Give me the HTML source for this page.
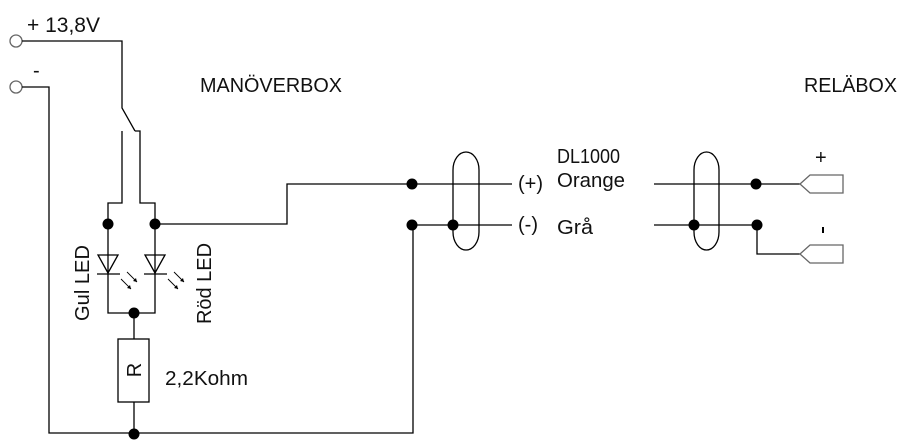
<!DOCTYPE html>
<html><head><meta charset="utf-8"><style>
html,body{margin:0;padding:0;background:#fff;}
svg{display:block;}
text{font-family:"Liberation Sans",sans-serif;fill:#111;}
</style></head><body>
<svg width="906" height="446" viewBox="0 0 906 446" xmlns="http://www.w3.org/2000/svg">
<g fill="none" stroke="#000" stroke-width="1.3">
<circle cx="16" cy="41" r="6" stroke="#666"/>
<circle cx="16" cy="87" r="6" stroke="#666"/>
<polyline points="22,41 122,41 122,108 135,131"/>
<polyline points="22,87 49,87 49,433 413,433 413,225"/>
<polyline points="122,131 122,203 108,203 108,313 155,313 155,203 140,203 140,131 135,131"/>
<polygon points="98,255 118,255 108,273"/>
<line x1="97" y1="274" x2="120" y2="274"/>
<polygon points="145,255 165,255 155,273"/>
<line x1="144" y1="274" x2="167" y2="274"/>
<line x1="134" y1="313" x2="134" y2="339"/>
<rect x="118" y="339" width="31" height="63"/>
<line x1="134" y1="402" x2="134" y2="433"/>
<polyline points="155,224 287,224 287,184 512,184"/>
<line x1="413" y1="225" x2="512" y2="225"/>
<rect x="453" y="152" width="26" height="98" rx="13" ry="18"/>
<line x1="654" y1="184" x2="800" y2="184"/>
<polyline points="654,225 757,225 757,254 800,254"/>
<rect x="694" y="152" width="25" height="98" rx="12.5" ry="18"/>
<polygon points="800,184 810,175 843,175 843,193 810,193" stroke="#666"/>
<polygon points="800,254 810,245 843,245 843,263 810,263" stroke="#666"/>
<line x1="823" y1="227" x2="823" y2="233" stroke-width="2"/>
<g stroke-width="0.9">
<line x1="121" y1="279" x2="131" y2="289"/><line x1="127" y1="272" x2="137" y2="282"/>
<line x1="168" y1="279" x2="178" y2="289"/><line x1="174" y1="272" x2="184" y2="282"/>
</g>
</g>
<g fill="#000">
<path d="M131,289 l-4,-1 l3,-3z M137,282 l-4,-1 l3,-3z M178,289 l-4,-1 l3,-3z M184,282 l-4,-1 l3,-3z"/>
<circle cx="108" cy="224" r="5.5"/><circle cx="155" cy="224" r="5.5"/>
<circle cx="134" cy="313" r="5.5"/><circle cx="134" cy="434" r="5.5"/>
<circle cx="412" cy="184" r="5.5"/><circle cx="412" cy="225" r="5.5"/>
<circle cx="453" cy="225" r="5.5"/><circle cx="694" cy="225" r="5.5"/>
<circle cx="756" cy="184" r="5.5"/><circle cx="757" cy="225" r="5.5"/>
</g>
<g font-size="20">
<text x="27" y="32" font-size="21" textLength="73" lengthAdjust="spacingAndGlyphs">+ 13,8V</text>
<text x="33" y="77">-</text>
<text x="200" y="92" textLength="142" lengthAdjust="spacingAndGlyphs">MANÖVERBOX</text>
<text x="804" y="92" textLength="93" lengthAdjust="spacingAndGlyphs">RELÄBOX</text>
<text x="557" y="163" textLength="63" lengthAdjust="spacingAndGlyphs">DL1000</text>
<text x="557" y="187" textLength="68" lengthAdjust="spacingAndGlyphs">Orange</text>
<text x="557" y="234" textLength="36" lengthAdjust="spacingAndGlyphs">Grå</text>
<text x="518" y="190" textLength="25" lengthAdjust="spacingAndGlyphs">(+)</text>
<text x="518" y="231">(-)</text>
<text x="815" y="164">+</text>
<text x="165" y="385" textLength="83" lengthAdjust="spacingAndGlyphs">2,2Kohm</text>
<text transform="translate(89,321) rotate(-90)" textLength="76" lengthAdjust="spacingAndGlyphs">Gul LED</text>
<text transform="translate(211,324) rotate(-90)" textLength="81" lengthAdjust="spacingAndGlyphs">Röd LED</text>
<text transform="translate(141,370) rotate(-90)" text-anchor="middle">R</text>
</g>
</svg>
</body></html>
